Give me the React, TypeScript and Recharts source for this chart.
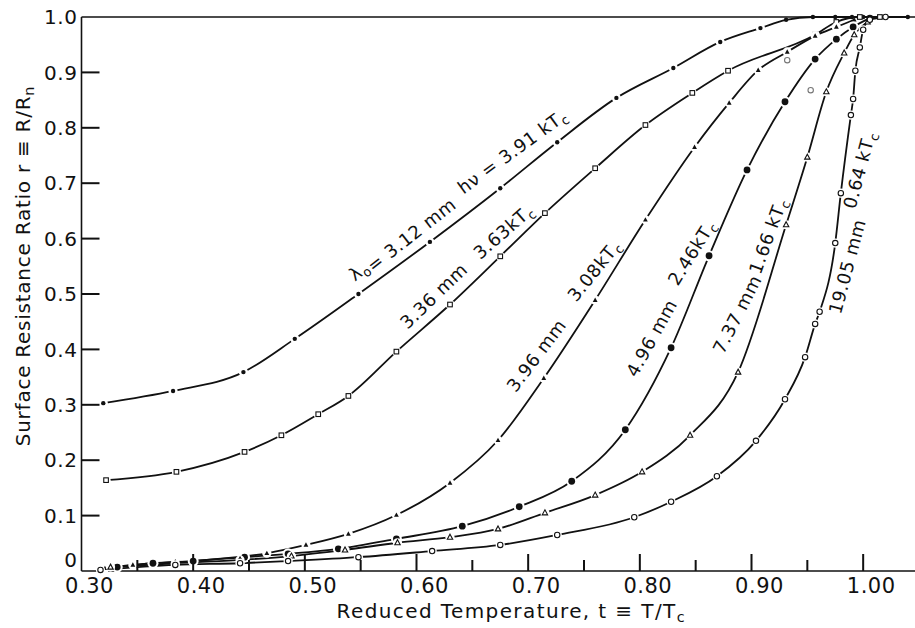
import React from 'react';
import { ComposedChart, Line, XAxis, YAxis, ReferenceDot } from 'recharts';

// ---- axis ticks ----
const xTicks = [0.3, 0.35, 0.4, 0.45, 0.5, 0.55, 0.6, 0.65, 0.7, 0.75, 0.8, 0.85, 0.9, 0.95, 1.0];
const yTicksLeft = [0, 0.1, 0.2, 0.3, 0.4, 0.5, 0.6, 0.7, 0.8, 0.9, 1.0];
const yTicksRight = [0.1, 0.2, 0.3, 0.4, 0.5, 0.6, 0.7, 0.8, 0.9];

// ---- series: 3.12 mm (hν = 3.91 kTc) ----
const t312 = [0.3195, 0.382, 0.445, 0.491, 0.548, 0.612, 0.675, 0.726, 0.779, 0.83, 0.872, 0.908, 0.931, 0.955, 0.975, 0.99, 1.0, 1.02, 1.04];
const r312 = [0.303, 0.325, 0.359, 0.419, 0.5, 0.594, 0.691, 0.774, 0.854, 0.908, 0.955, 0.98, 0.995, 1.0, 1.0, 1.0, 1.0, 1.0, 1.0];

// ---- series: 3.36 mm (3.63 kTc) ----
const t336 = [0.322, 0.385, 0.446, 0.479, 0.512, 0.539, 0.582, 0.63, 0.675, 0.715, 0.76, 0.805, 0.847, 0.879, 0.957, 0.976, 0.997, 1.015];
const r336 = [0.164, 0.179, 0.215, 0.245, 0.283, 0.316, 0.396, 0.481, 0.568, 0.646, 0.727, 0.805, 0.863, 0.903, 0.968, 0.991, 1.0, 1.0];

// ---- series: 3.96 mm (3.08 kTc) ----
const t396 = [0.321, 0.346, 0.4, 0.466, 0.501, 0.539, 0.582, 0.63, 0.673, 0.714, 0.76, 0.805, 0.849, 0.88, 0.906, 0.932, 0.957, 0.976, 0.992];
const r396 = [0.005, 0.011, 0.018, 0.032, 0.047, 0.067, 0.101, 0.159, 0.236, 0.348, 0.489, 0.634, 0.765, 0.845, 0.904, 0.937, 0.966, 0.982, 0.995];

// ---- series: 4.96 mm (2.46 kTc) ----
const t496 = [0.332, 0.364, 0.4, 0.446, 0.485, 0.53, 0.582, 0.641, 0.692, 0.739, 0.787, 0.828, 0.862, 0.896, 0.93, 0.957, 0.976, 0.991, 1.006];
const r496 = [0.007, 0.014, 0.018, 0.025, 0.031, 0.04, 0.058, 0.081, 0.116, 0.162, 0.255, 0.403, 0.569, 0.724, 0.847, 0.924, 0.96, 0.982, 0.998];

// ---- series: 7.37 mm (1.66 kTc) ----
const t737 = [0.326, 0.384, 0.442, 0.488, 0.536, 0.583, 0.63, 0.673, 0.715, 0.76, 0.802, 0.845, 0.888, 0.931, 0.95, 0.967, 0.983, 0.992, 1.004];
const r737 = [0.007, 0.014, 0.02, 0.027, 0.038, 0.051, 0.061, 0.076, 0.105, 0.137, 0.179, 0.245, 0.359, 0.625, 0.747, 0.865, 0.935, 0.968, 0.991];

// ---- series: 19.05 mm (0.64 kTc) ----
const t1905 = [0.317, 0.384, 0.442, 0.485, 0.548, 0.614, 0.675, 0.726, 0.795, 0.828, 0.869, 0.904, 0.93, 0.948, 0.957, 0.961, 0.975, 0.98, 0.989, 0.991, 0.993, 0.997, 1.0, 1.006, 1.02];
const r1905 = [0.002, 0.011, 0.014, 0.018, 0.025, 0.036, 0.047, 0.065, 0.097, 0.125, 0.171, 0.235, 0.31, 0.386, 0.446, 0.468, 0.592, 0.682, 0.823, 0.852, 0.903, 0.945, 0.977, 0.995, 1.0];

// ---- stray (unconnected) points ----
const tStray = [0.932, 0.953];
const rStray = [0.922, 0.868];

// ---- curve labels ("_x" = subscript x) ----
const labelTexts = ['λ_o= 3.12 mm', 'hν = 3.91 kT_c', '3.36 mm', '3.63kT_c', '3.96 mm', '3.08kT_c', '4.96 mm', '2.46kT_c', '7.37 mm', '1.66 kT_c', '19.05 mm', '0.64 kT_c'];
const labelT = [0.545, 0.642, 0.592, 0.657, 0.689, 0.743, 0.797, 0.834, 0.875, 0.908, 0.98, 0.993];
const labelR = [0.522, 0.679, 0.435, 0.561, 0.321, 0.484, 0.348, 0.513, 0.39, 0.534, 0.462, 0.652];
const labelAngle = [-38, -36, -44, -41, -53, -51, -61, -58, -63, -70, -75, -75];

// ---- axis titles ----
const xTitleText = 'Reduced Temperature, t ≡ T/T_c';
const yTitleText = 'Surface Resistance Ratio  r ≡ R/R_n';

const X_MIN = 0.3;
const X_MAX = 1.05;

const zip = (ts: number[], rs: number[]) => ts.map((t, i) => ({ t, r: rs[i] }));

const series = [
  { key: 's312', data: zip(t312, r312), kind: 'dot' },
  { key: 's336', data: zip(t336, r336), kind: 'square' },
  { key: 's396', data: zip(t396, r396), kind: 'tri' },
  { key: 's496', data: zip(t496, r496), kind: 'bigdot' },
  { key: 's737', data: zip(t737, r737), kind: 'otri' },
  { key: 's1905', data: zip(t1905, r1905), kind: 'ocircle' },
];
const strayData = zip(tStray, rStray);

const INK = '#111';
const FONT = '"DejaVu Sans", sans-serif';
const TW = 2;

const marker = (kind: string, cx: number, cy: number, color = INK) => {
  switch (kind) {
    case 'dot':
      return <circle cx={cx} cy={cy} r={2.2} fill={color} />;
    case 'square':
      return <rect x={cx - 2.3} y={cy - 2.3} width={4.6} height={4.6} fill="#fff" stroke={color} strokeWidth={1.1} />;
    case 'tri':
      return <path d={`M${cx},${cy - 2.6} L${cx + 2.4},${cy + 1.8} L${cx - 2.4},${cy + 1.8} Z`} fill={color} />;
    case 'bigdot':
      return <circle cx={cx} cy={cy} r={3.4} fill={color} />;
    case 'otri':
      return <path d={`M${cx},${cy - 3} L${cx + 2.7},${cy + 2} L${cx - 2.7},${cy + 2} Z`} fill="#fff" stroke={color} strokeWidth={1.1} />;
    default:
      return <circle cx={cx} cy={cy} r={2.7} fill="#fff" stroke={color} strokeWidth={1.1} />;
  }
};

const makeDot = (kind: string, halo = true, color = INK) => (p: any) => {
  const { cx, cy, index, payload } = p;
  if (cx == null || cy == null) return <g key={`d-${kind}-${index}`} />;
  const showHalo = halo && payload && payload.r < 0.99;
  return (
    <g key={`d-${kind}-${index}`}>
      {showHalo && <circle cx={cx} cy={cy} r={kind === 'bigdot' ? 5.5 : 4.6} fill="#fff" />}
      {marker(kind, cx, cy, color)}
    </g>
  );
};

const renderLabel = (text: string) => {
  const parts: React.ReactNode[] = [];
  let buf = '';
  let k = 0;
  for (let i = 0; i < text.length; i++) {
    if (text[i] === '_' && i + 1 < text.length) {
      if (buf) parts.push(<tspan key={k++}>{buf}</tspan>);
      buf = '';
      parts.push(<tspan key={k++} dy={4} fontSize="0.72em">{text[i + 1]}</tspan>);
      parts.push(<tspan key={k++} dy={-4}>{''}</tspan>);
      i++;
    } else {
      buf += text[i];
    }
  }
  if (buf) parts.push(<tspan key={k++}>{buf}</tspan>);
  return parts;
};

const CurveLabel = ({ cx, cy, angle, text }: any) => (
  <text x={cx} y={cy} transform={`rotate(${angle}, ${cx}, ${cy})`} fontFamily={FONT} fontSize={18} letterSpacing={0.6} fill={INK}>
    {renderLabel(text)}
  </text>
);

const isMajor = (v: number) => Math.round(v * 100) % 10 === 0;

const BottomTick = (p: any) => {
  const v = p.payload.value;
  const x = Number(p.x);
  const y = Number(p.y);
  const major = isMajor(v);
  const len = major ? 17 : 11;
  return (
    <g>
      {v > X_MIN + 0.001 && <rect x={x - TW / 2} y={y - len} width={TW} height={len} fill={INK} />}
      {major && (
        <text x={x + 8} y={y + 22} textAnchor="middle" fontFamily={FONT} fontSize={21} letterSpacing={0.5} fill={INK}>
          {v.toFixed(2)}
        </text>
      )}
    </g>
  );
};

const TopTick = (p: any) => {
  const v = p.payload.value;
  const x = Number(p.x);
  const y = Number(p.y);
  const len = isMajor(v) ? 20 : 14;
  return <g>{v > X_MIN + 0.001 && <rect x={x - TW / 2} y={y} width={TW} height={len} fill={INK} />}</g>;
};

const LeftTick = (p: any) => {
  const v = p.payload.value;
  const x = Number(p.x);
  const y = Number(p.y);
  return (
    <g>
      {v > 0.001 && v < 0.999 && <rect x={x} y={y - TW / 2} width={18} height={TW} fill={INK} />}
      <text x={x - 4} y={y} dy={v === 0 ? '-0.2em' : '0.36em'} textAnchor="end" fontFamily={FONT} fontSize={20} letterSpacing={0.6} fill={INK}>
        {v === 0 ? '0' : v.toFixed(1)}
      </text>
    </g>
  );
};

const RightTick = (p: any) => {
  const x = Number(p.x);
  const y = Number(p.y);
  return <g><rect x={x - 18} y={y - TW / 2} width={18} height={TW} fill={INK} /></g>;
};

const axisLine = { stroke: INK, strokeWidth: 1.6 };

export default function App() {
  return (
    <div style={{ position: 'absolute', left: 0, top: 0, width: 915, height: 628, overflow: 'hidden', background: '#fff' }}>
      <ComposedChart width={925} height={628} margin={{ top: 7, right: 0, bottom: 7, left: 31.5 }}>
        <XAxis
          xAxisId="b"
          type="number"
          dataKey="t"
          domain={[X_MIN, X_MAX]}
          ticks={xTicks}
          interval={0}
          height={50}
          tickSize={0}
          tickMargin={0}
          tickLine={false}
          axisLine={axisLine}
          tick={<BottomTick />}
        />
        <XAxis
          xAxisId="t"
          orientation="top"
          type="number"
          dataKey="t"
          domain={[X_MIN, X_MAX]}
          ticks={xTicks}
          interval={0}
          height={10}
          tickSize={0}
          tickMargin={0}
          tickLine={false}
          axisLine={axisLine}
          tick={<TopTick />}
        />
        <YAxis
          yAxisId="l"
          type="number"
          dataKey="r"
          domain={[0, 1]}
          ticks={yTicksLeft}
          interval={0}
          width={50}
          tickSize={0}
          tickMargin={0}
          tickLine={false}
          axisLine={axisLine}
          tick={<LeftTick />}
        />
        <YAxis
          yAxisId="r"
          orientation="right"
          type="number"
          dataKey="r"
          domain={[0, 1]}
          ticks={yTicksRight}
          interval={0}
          width={6}
          tickSize={0}
          tickMargin={0}
          tickLine={false}
          axisLine={axisLine}
          tick={<RightTick />}
        />
        {series.map((s) => (
          <Line
            key={s.key}
            data={s.data}
            xAxisId="b"
            yAxisId="l"
            dataKey="r"
            type="monotone"
            stroke={INK}
            strokeWidth={1.8}
            dot={makeDot(s.kind)}
            activeDot={false}
            legendType="none"
            isAnimationActive={false}
          />
        ))}
        <Line
          data={strayData}
          xAxisId="b"
          yAxisId="l"
          dataKey="r"
          stroke="none"
          dot={makeDot('ocircle', false, '#777')}
          activeDot={false}
          legendType="none"
          isAnimationActive={false}
        />
        {labelTexts.map((txt, i) => (
          <ReferenceDot
            key={`lab-${i}`}
            xAxisId="b"
            yAxisId="l"
            x={labelT[i]}
            y={labelR[i]}
            r={0}
            ifOverflow="visible"
            shape={(p: any) => <CurveLabel cx={p.cx} cy={p.cy} angle={labelAngle[i]} text={txt} />}
          />
        ))}
        <ReferenceDot
          xAxisId="b"
          yAxisId="l"
          x={(X_MIN + X_MAX) / 2}
          y={0}
          r={0}
          ifOverflow="visible"
          shape={(p: any) => (
            <text x={Number(p.cx) + 11} y={Number(p.cy) + 47} textAnchor="middle" fontFamily={FONT} fontSize={20} letterSpacing={1.4} fill={INK}>
              {renderLabel(xTitleText)}
            </text>
          )}
        />
        <ReferenceDot
          xAxisId="b"
          yAxisId="l"
          x={X_MIN}
          y={0.5}
          r={0}
          ifOverflow="visible"
          shape={(p: any) => {
            const x = Number(p.cx) - 51.5;
            const y = Number(p.cy) - 28;
            return (
              <text x={x} y={y} transform={`rotate(-90, ${x}, ${y})`} textAnchor="middle" fontFamily={FONT} fontSize={20} letterSpacing={0.75} fill={INK}>
                {renderLabel(yTitleText)}
              </text>
            );
          }}
        />
      </ComposedChart>
    </div>
  );
}
